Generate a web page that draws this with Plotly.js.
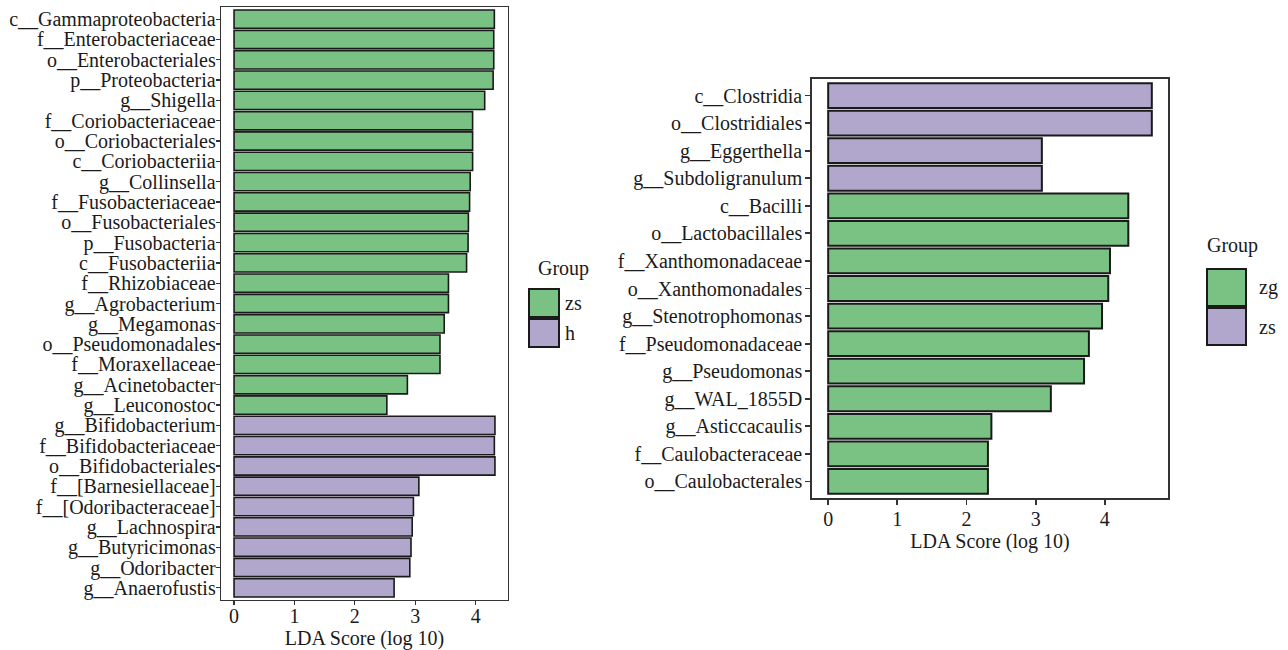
<!DOCTYPE html>
<html>
<head>
<meta charset="utf-8">
<script src="https://cdn.plot.ly/plotly-3.0.1.min.js"></script>
<style>html,body{margin:0;padding:0;background:#fff;}#chart{width:1288px;height:650px;}</style>
</head>
<body>
<div id="chart"></div>
<script>
// Left panel data (top to bottom)
const leftTaxa = [
  "c__Gammaproteobacteria","f__Enterobacteriaceae","o__Enterobacteriales","p__Proteobacteria",
  "g__Shigella","f__Coriobacteriaceae","o__Coriobacteriales","c__Coriobacteriia","g__Collinsella",
  "f__Fusobacteriaceae","o__Fusobacteriales","p__Fusobacteria","c__Fusobacteriia","f__Rhizobiaceae",
  "g__Agrobacterium","g__Megamonas","o__Pseudomonadales","f__Moraxellaceae","g__Acinetobacter",
  "g__Leuconostoc","g__Bifidobacterium","f__Bifidobacteriaceae","o__Bifidobacteriales",
  "f__[Barnesiellaceae]","f__[Odoribacteraceae]","g__Lachnospira","g__Butyricimonas",
  "g__Odoribacter","g__Anaerofustis"
];
const leftLDA = [
  4.31,4.30,4.30,4.29,4.15,3.95,3.95,3.95,3.91,3.90,3.88,3.875,3.85,3.55,3.55,3.48,3.41,3.41,
  2.87,2.53,4.32,4.31,4.32,3.06,2.97,2.95,2.93,2.91,2.65
];
const leftGroup = [
  "zs","zs","zs","zs","zs","zs","zs","zs","zs","zs","zs","zs","zs","zs","zs","zs","zs","zs","zs","zs",
  "h","h","h","h","h","h","h","h","h"
];
const leftLegend = ["zs","h"];

// Right panel data (top to bottom)
const rightTaxa = [
  "c__Clostridia","o__Clostridiales","g__Eggerthella","g__Subdoligranulum","c__Bacilli",
  "o__Lactobacillales","f__Xanthomonadaceae","o__Xanthomonadales","g__Stenotrophomonas",
  "f__Pseudomonadaceae","g__Pseudomonas","g__WAL_1855D","g__Asticcacaulis",
  "f__Caulobacteraceae","o__Caulobacterales"
];
const rightLDA = [4.68,4.68,3.09,3.09,4.34,4.34,4.075,4.05,3.96,3.77,3.70,3.22,2.36,2.31,2.31];
const rightGroup = ["zs","zs","zs","zs","zg","zg","zg","zg","zg","zg","zg","zg","zg","zg","zg"];
const rightLegend = ["zg","zs"];

const xTicks = [0,1,2,3,4];

const GREEN = "#7AC284", PURPLE = "#B1A6CC";
const leftColors = {zs: GREEN, h: PURPLE};
const rightColors = {zg: GREEN, zs: PURPLE};

const FONT = "Liberation Serif";
const FS = 20;
const TXT = "#1a1a1a";
const W = 1288, H = 650;

const traces = [
  {
    type: "bar", orientation: "h", x: leftLDA, y: leftTaxa, xaxis: "x", yaxis: "y",
    width: 0.9, showlegend: false, hoverinfo: "x+y",
    marker: {color: leftGroup.map(g => leftColors[g]), line: {color: "#1a1a1a", width: 1.6}}
  },
  {
    type: "bar", orientation: "h", x: rightLDA, y: rightTaxa, xaxis: "x2", yaxis: "y2",
    width: 0.9, showlegend: false, hoverinfo: "x+y",
    marker: {color: rightGroup.map(g => rightColors[g]), line: {color: "#1a1a1a", width: 2}}
  }
];

function xax(domain, maxv, lw, tl, tls, st) {
  const pad = maxv * 0.05;
  return {
    domain: domain, range: [-pad, maxv + pad], tickmode: "array", tickvals: xTicks, ticktext: xTicks.map(String),
    ticks: "outside", ticklen: tl, tickwidth: lw, tickcolor: "#333", ticklabelstandoff: tls,
    showline: true, linecolor: "#333", linewidth: lw, mirror: true,
    showgrid: false, zeroline: false, automargin: false,
    tickfont: {family: FONT, size: FS, color: TXT},
    title: {text: "LDA Score (log 10)", font: {family: FONT, size: FS, color: TXT}, standoff: st}
  };
}
function yax(domain, cats, lw, tl, tls) {
  return {
    domain: domain, type: "category", categoryorder: "array", categoryarray: cats,
    tickmode: "array", tickvals: cats, ticktext: cats,
    range: [cats.length - 0.4, -0.6],
    ticks: "outside", ticklen: tl, tickwidth: lw, tickcolor: "#333", ticklabelstandoff: tls,
    showline: true, linecolor: "#333", linewidth: lw, mirror: true,
    showgrid: false, zeroline: false, automargin: false,
    tickfont: {family: FONT, size: FS, color: TXT}
  };
}

const maxL = Math.max(...leftLDA), maxR = Math.max(...rightLDA);

// Custom legend (key boxes + labels), positioned in pixels -> paper
const shapes = [], annotations = [];
function legend(names, colors, x0, titleX, yTitle, yKey0, kw, kh, labelX) {
  annotations.push({
    xref: "paper", yref: "paper", x: titleX / W, y: 1 - yTitle / H, xanchor: "left", yanchor: "middle",
    text: "Group", showarrow: false, font: {family: FONT, size: FS, color: TXT}
  });
  names.forEach((n, i) => {
    const top = yKey0 + i * kh;
    shapes.push({
      type: "rect", xref: "paper", yref: "paper",
      x0: x0 / W, x1: (x0 + kw) / W, y0: 1 - (top + kh - 1) / H, y1: 1 - (top + 1) / H,
      fillcolor: colors[n], line: {color: "#1a1a1a", width: 2}
    });
    annotations.push({
      xref: "paper", yref: "paper", x: labelX / W, y: 1 - (top + kh / 2) / H,
      xanchor: "left", yanchor: "middle", text: n, showarrow: false,
      font: {family: FONT, size: FS, color: TXT}
    });
  });
}
legend(leftLegend, leftColors, 529, 536, 268, 288, 30, 30, 563);
legend(rightLegend, rightColors, 1207, 1205, 246, 268, 39, 39, 1257);

const layout = {
  width: W, height: H, margin: {l: 0, r: 0, t: 0, b: 0},
  paper_bgcolor: "#fff", plot_bgcolor: "#fff", showlegend: false, barmode: "overlay",
  font: {family: FONT, size: FS, color: TXT},
  xaxis: Object.assign(xax([221 / W, 508 / W], maxL, 1.3, 4, -6, 10), {anchor: "y"}),
  yaxis: Object.assign(yax([1 - 600 / H, 1 - 7 / H], leftTaxa, 1.3, 4, -4), {anchor: "x"}),
  xaxis2: Object.assign(xax([812 / W, 1168 / W], maxR, 1.8, 5, -3, 3), {anchor: "y2"}),
  yaxis2: Object.assign(yax([1 - 498 / H, 1 - 79 / H], rightTaxa, 1.8, 5, -1), {anchor: "x2"}),
  shapes: shapes, annotations: annotations
};

Plotly.newPlot("chart", traces, layout, {displayModeBar: false, staticPlot: true});
</script>
</body>
</html>
